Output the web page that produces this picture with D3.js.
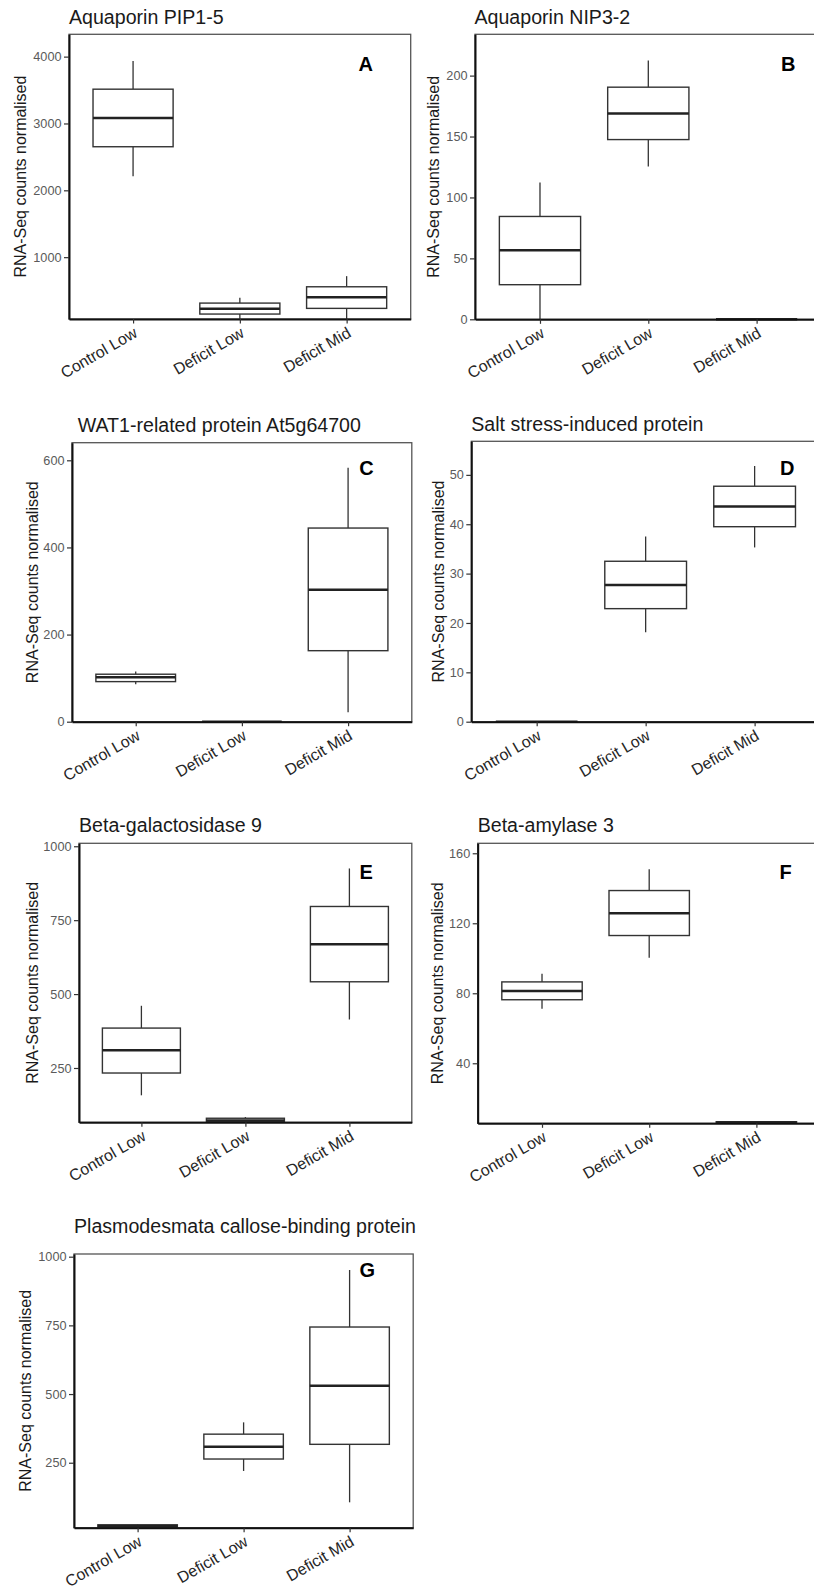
<!DOCTYPE html>
<html><head><meta charset="utf-8">
<script src="https://cdn.jsdelivr.net/npm/d3@7"></script>
<style>body{margin:0;background:#fff}svg{display:block}</style>
</head><body>
<script>
// ---------------- data ----------------
const categories = ["Control Low", "Deficit Low", "Deficit Mid"];
const titles = ["Aquaporin PIP1-5", "Aquaporin NIP3-2", "WAT1-related protein At5g64700",
  "Salt stress-induced protein", "Beta-galactosidase 9", "Beta-amylase 3",
  "Plasmodesmata callose-binding protein"];
const letters = ["A", "B", "C", "D", "E", "F", "G"];
const yLabel = "RNA-Seq counts normalised";

// box statistics per category: [min, q1, median, q3, max]
const pip15  = [[2209, 2652, 3081, 3513, 3936], [77, 149, 228, 313, 393], [77, 234, 399, 557, 716]];
const nip32  = [[0, 28.4, 56.6, 84.4, 112.3], [125.4, 147.5, 168.9, 190.5, 212.3], [0, 0, 0, 0, 0]];
const wat1   = [[86, 92, 102, 109, 115], [0, 0, 0, 0, 0], [21.6, 163, 303, 444.5, 583]];
const salt   = [[0, 0, 0, 0, 0], [18.1, 22.9, 27.7, 32.5, 37.5], [35.3, 39.5, 43.6, 47.7, 51.8]];
const bgal9  = [[157.6, 233, 309.9, 385, 460.4], [66.3, 68, 72, 80, 84], [414, 541.6, 668.8, 796.3, 924.9]];
const bamy3  = [[71.2, 76.3, 81.3, 86.5, 91.2], [100.3, 113, 125.7, 138.7, 150.9], [5.7, 5.9, 6.2, 6.6, 7]];
const pdcb   = [[13.5, 16, 20, 24, 26], [220, 263.5, 308, 354, 397], [105.9, 317, 530, 744, 951.6]];
const panelStats = [pip15, nip32, wat1, salt, bgal9, bamy3, pdcb];

// y-axis ranges and tick labels
const yDomains = [[75, 4334], [0, 233.9], [0, 640.4], [0, 56.8], [66.3, 1010], [5.7, 165.7], [13.5, 1009.8]];
const yTicks = [[1000, 2000, 3000, 4000], [0, 50, 100, 150, 200], [0, 200, 400, 600],
  [0, 10, 20, 30, 40, 50], [250, 500, 750, 1000], [40, 80, 120, 160], [250, 500, 750, 1000]];

// ---------------- layout (pixels) ----------------
const layout = [
  {L: 69,    R: 410.7, T: 34.3,  B: 319,    tx: 69,    ty: 24,     yl: 20.7,  lx: 19,   ly: 36.4},
  {L: 475,   R: 821.6, T: 34.3,  B: 319.3,  tx: 474.5, ty: 24,     yl: 433,   lx: 31.6, ly: 36.4},
  {L: 72,    R: 411.8, T: 442.7, B: 721.7,  tx: 77.7,  ty: 432.3,  yl: 32.3,  lx: 18.4, ly: 32.3},
  {L: 471.3, R: 820,   T: 441.3, B: 721.7,  tx: 471.3, ty: 430.7,  yl: 438,   lx: 32.7, ly: 33.7},
  {L: 79,    R: 411.8, T: 843.3, B: 1122.3, tx: 79,    ty: 832.3,  yl: 32.2,  lx: 16.7, ly: 35.7},
  {L: 477.7, R: 820.7, T: 843.3, B: 1123.3, tx: 477.7, ty: 832.3,  yl: 437.2, lx: 29.3, ly: 35.7},
  {L: 74,    R: 413.2, T: 1254,  B: 1527.7, tx: 74,    ty: 1232.7, yl: 25.8,  lx: 17.7, ly: 23.3}
];

const FONT = "'Liberation Sans', Arial, Helvetica, sans-serif";
const W = 814, H = 1591;
const svg = d3.select("body").append("svg").attr("width", W).attr("height", H)
  .style("font-family", FONT);

panelStats.forEach((stats, i) => {
  const lo = layout[i];
  const x = d3.scalePoint().domain(categories).range([lo.L, lo.R]).padding(0.6);
  const y = d3.scaleLinear().domain(yDomains[i]).range([lo.B, lo.T]);
  const g = svg.append("g");
  const bw = x.step() * 0.75;

  // panel border (top/right)
  g.append("rect").attr("x", lo.L).attr("y", lo.T)
    .attr("width", lo.R - lo.L).attr("height", lo.B - lo.T)
    .attr("fill", "none").attr("stroke", "#555").attr("stroke-width", 1.3);

  // boxes
  const box = g.selectAll("g.box").data(stats).join("g").attr("class", "box");
  const cx = (d, j) => x(categories[j]);
  box.append("line")
    .attr("x1", cx).attr("x2", cx)
    .attr("y1", d => y(d[3])).attr("y2", d => y(d[4]))
    .attr("stroke", "#333").attr("stroke-width", 1.3);
  box.append("line")
    .attr("x1", cx).attr("x2", cx)
    .attr("y1", d => y(d[0])).attr("y2", d => y(d[1]))
    .attr("stroke", "#333").attr("stroke-width", 1.3);
  box.append("rect")
    .attr("x", (d, j) => cx(d, j) - bw / 2).attr("width", bw)
    .attr("y", d => y(d[3])).attr("height", d => Math.max(0, y(d[1]) - y(d[3])))
    .attr("fill", "#fff").attr("stroke", "#333").attr("stroke-width", 1.4);
  box.append("line")
    .attr("x1", (d, j) => cx(d, j) - bw / 2).attr("x2", (d, j) => cx(d, j) + bw / 2)
    .attr("y1", d => y(d[2])).attr("y2", d => y(d[2]))
    .attr("stroke", "#222").attr("stroke-width", 2.5);

  // left axis
  const ya = g.append("g").attr("transform", `translate(${lo.L},0)`)
    .call(d3.axisLeft(y).tickValues(yTicks[i]).tickFormat(d3.format("d"))
      .tickSize(5).tickSizeOuter(0).tickPadding(2.5));
  ya.select(".domain").attr("stroke", "#111").attr("stroke-width", 2);
  ya.selectAll(".tick line").attr("stroke", "#333").attr("stroke-width", 1.2);
  ya.selectAll(".tick text").attr("fill", "#5a5a5a").style("font-size", "12.7px")
    .style("font-family", FONT);

  // bottom axis
  const xa = g.append("g").attr("transform", `translate(0,${lo.B})`)
    .call(d3.axisBottom(x).tickSize(4.5).tickSizeOuter(0));
  xa.select(".domain").attr("stroke", "#111").attr("stroke-width", 2);
  xa.selectAll(".tick line").attr("stroke", "#333").attr("stroke-width", 1.2);
  xa.selectAll(".tick text")
    .attr("x", 0).attr("y", 0).attr("dy", null)
    .attr("text-anchor", "end")
    .attr("transform", "translate(5,17) rotate(-30)")
    .attr("fill", "#262626").style("font-size", "16px").style("font-family", FONT);

  // title
  g.append("text").attr("x", lo.tx).attr("y", lo.ty)
    .attr("fill", "#1a1a1a").style("font-size", "19.6px").text(titles[i]);

  // y axis title
  g.append("text")
    .attr("transform", `translate(${lo.yl},${(lo.T + lo.B) / 2}) rotate(-90)`)
    .attr("text-anchor", "middle").attr("dominant-baseline", "central")
    .attr("fill", "#1a1a1a").style("font-size", "16px").text(yLabel);

  // panel letter
  g.append("text").attr("x", x(categories[2]) + lo.lx).attr("y", lo.T + lo.ly)
    .attr("text-anchor", "middle").attr("fill", "#000")
    .style("font-size", "20px").style("font-weight", "bold").text(letters[i]);
});
</script>
</body></html>
